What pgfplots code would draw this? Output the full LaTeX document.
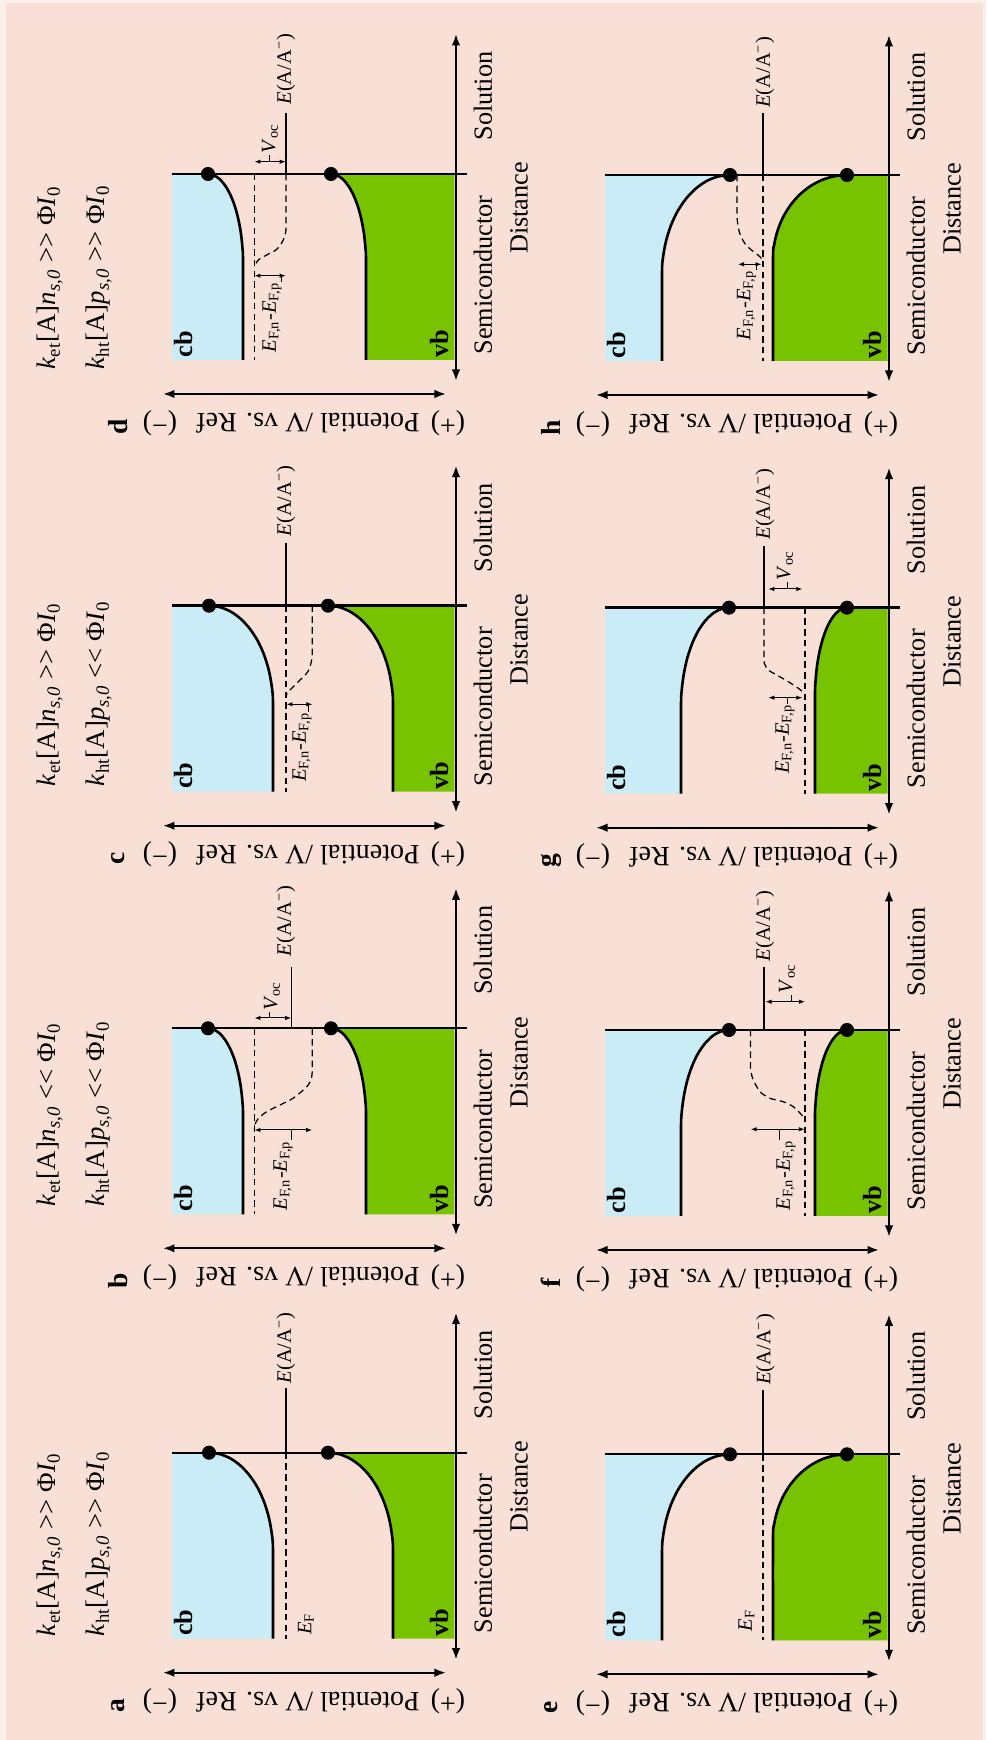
\documentclass[border=0pt]{standalone}
\usepackage{fontspec}
\setmainfont{Liberation Serif}
\usepackage{pgfplots}
\pgfplotsset{compat=1.18}
\usetikzlibrary{arrows.meta}

\definecolor{bgpeach}{RGB}{249,224,214}
\definecolor{bgedge}{RGB}{252,238,233}
\definecolor{cbblue}{RGB}{201,236,246}
\definecolor{vbgreen}{RGB}{120,195,0}

\newcommand{\fs}[1]{\fontsize{#1}{#1}\selectfont}
\newcommand{\gtgt}{>\kern0pt>}
\newcommand{\ltlt}{<\kern0pt<}
\newcommand{\kel}[1]{\textit{k}\textsubscript{et}[A]\textit{n}\textsubscript{\textit{s},\textit{0}} #1 Φ\textit{I}\textsubscript{0}}
\newcommand{\khl}[1]{\textit{k}\textsubscript{ht}[A]\textit{p}\textsubscript{\textit{s},\textit{0}} #1 Φ\textit{I}\textsubscript{0}}
\newcommand{\EAA}{\textit{E}(A/A\textsuperscript{−})}
\newcommand{\EFnp}{\textit{E}\textsubscript{F,n}-\textit{E}\textsubscript{F,p}}
\newcommand{\Voc}{\textit{V}\textsubscript{oc}}

\tikzset{
  vtext/.style={rotate=90, inner sep=0pt},
  lab/.style={font=\fs{10.5}},
  potl/.style={rotate=180, inner sep=0pt, font=\fs{11.2}},
  small/.style={font=\fs{8.2}},
  klab/.style={rotate=90, inner sep=0pt, anchor=west, font=\fs{10.7}},
  letter/.style={rotate=90, inner sep=0pt, font=\fs{11}\bfseries},
  bandlab/.style={rotate=90, inner sep=0pt, font=\fs{10.5}\bfseries},
}

\pgfplotsset{
  panel/.style={hide axis, clip=false, x=0.4pt, y=0.4pt,
    xmin=-440, xmax=80, ymin=-260, ymax=150, anchor=south west},
  cbfill/.style={fill=cbblue, draw=none},
  vbfill/.style={fill=vbgreen, draw=none},
  band/.style={black, line width=1.05pt, smooth},
  level/.style={black, line width=0.5pt, dash pattern=on 2.6pt off 1.7pt},
  redox/.style={black, line width=0.5pt},
  surf/.style={black, line width=0.95pt},
  bigarrow/.style={black, line width=0.8pt,
    arrows={Latex[length=4.6pt,width=3.4pt]-Latex[length=4.6pt,width=3.4pt]}},
  smallarrow/.style={black, line width=0.4pt,
    arrows={Latex[length=2.4pt,width=1.8pt]-Latex[length=2.4pt,width=1.8pt]}},
  leader/.style={black, line width=0.4pt},
  dots/.style={only marks, mark=*, mark size=2.6pt, black, mark options={fill=black}},
}

% surface line, the two axes and the fixed labels of one panel
\newcommand{\panelframe}[1]{%
  \addplot[surf] coordinates {(-284,0) (11,0)};
  \addplot[bigarrow] coordinates {(0,-207) (0,140)};
  \addplot[bigarrow] coordinates {(-293,-220) (-10,-220)};
  \node[vtext, lab] at (axis cs:27,-101) {Semiconductor};
  \node[vtext, lab] at (axis cs:27,78) {Solution};
  \node[vtext, lab] at (axis cs:63,-34) {Distance};
  \node[potl] at (axis cs:-8,-249) {(+)};
  \node[potl] at (axis cs:-148,-249) {Potential /V vs. Ref};
  \node[potl] at (axis cs:-296,-249) {(−)};
  \node[letter] at (axis cs:-338,-253) {#1};
  \node[bandlab] at (axis cs:-272,-170) {cb};
  \node[bandlab] at (axis cs:-16.5,-170) {vb};
}

\begin{document}
\begin{tikzpicture}
\fill[bgedge] (0,0) rectangle (394.4pt,696pt);
\fill[bgpeach] (2.4pt,0) rectangle (393.2pt,694.8pt);

%% ---------------- panel a ----------------
\begin{axis}[panel, at={(6.4pt,10.92pt)}]
\addplot[cbfill] coordinates {(-284,0) (-247,0) (-235.9,-1.5) (-225.1,-6) (-215,-13.4) (-205.9,-23.4) (-198,-35.7) (-191.6,-50) (-186.9,-65.8) (-184,-82.6) (-183,-100) (-183,-186) (-284,-186)};
\addplot[vbfill] coordinates {(-128,0) (-116.7,-1.5) (-105.8,-6) (-95.5,-13.4) (-86.2,-23.4) (-78.2,-35.7) (-71.7,-50) (-66.9,-65.8) (-64,-82.6) (-63,-100) (-63,-186) (-1.5,-186) (-1.5,0)};
\addplot[band] coordinates {(-247,0) (-235.9,-1.5) (-225.1,-6) (-215,-13.4) (-205.9,-23.4) (-198,-35.7) (-191.6,-50) (-186.9,-65.8) (-184,-82.6) (-183,-100) (-183,-186)};
\addplot[band] coordinates {(-128,0) (-116.7,-1.5) (-105.8,-6) (-95.5,-13.4) (-86.2,-23.4) (-78.2,-35.7) (-71.7,-50) (-66.9,-65.8) (-64,-82.6) (-63,-100) (-63,-186)};
\addplot[level] coordinates {(-170,0) (-170,-186)};
\addplot[redox] coordinates {(-170,0) (-170,65)};
\panelframe{a}
\addplot[dots] coordinates {(-247,0) (-128,0)};
\node[vtext, small, anchor=west] at (axis cs:-170,69) {\EAA};
\node[vtext, small] at (axis cs:-150,-171) {\textit{E}\textsubscript{F}};
\node[klab] at (axis cs:-406,-184) {\kel{\gtgt}};
\node[klab] at (axis cs:-357,-184) {\khl{\gtgt}};
\end{axis}

%% ---------------- panel b ----------------
\begin{axis}[panel, at={(6.4pt,180.68pt)}]
\addplot[cbfill] coordinates {(-284,0) (-248,0) (-241.9,-1.4) (-236,-5.4) (-230.5,-12.1) (-225.5,-21.1) (-221.2,-32.1) (-217.7,-45) (-215.1,-59.2) (-213.5,-74.4) (-213,-90) (-213,-186) (-284,-186)};
\addplot[vbfill] coordinates {(-125,0) (-118.9,-1.4) (-113,-5.4) (-107.5,-12.1) (-102.5,-21.1) (-98.2,-32.1) (-94.7,-45) (-92.1,-59.2) (-90.5,-74.4) (-90,-90) (-90,-186) (-1.5,-186) (-1.5,0)};
\addplot[band] coordinates {(-248,0) (-241.9,-1.4) (-236,-5.4) (-230.5,-12.1) (-225.5,-21.1) (-221.2,-32.1) (-217.7,-45) (-215.1,-59.2) (-213.5,-74.4) (-213,-90) (-213,-186)};
\addplot[band] coordinates {(-125,0) (-118.9,-1.4) (-113,-5.4) (-107.5,-12.1) (-102.5,-21.1) (-98.2,-32.1) (-94.7,-45) (-92.1,-59.2) (-90.5,-74.4) (-90,-90) (-90,-186)};
\addplot[level] coordinates {(-201.7,0) (-201.7,-186)};
\addplot[level, smooth] coordinates {(-143.7,0) (-143.7,-38) (-144.5,-50) (-148,-57) (-153,-62) (-163,-70) (-176,-76.7) (-189.3,-83.4) (-197.5,-90) (-201,-96) (-201.7,-101)};
\addplot[redox] coordinates {(-164.3,0) (-164.3,61.6)};
\panelframe{b}
\addplot[dots] coordinates {(-248,0) (-125,0)};
\addplot[smallarrow] coordinates {(-201.5,10.3) (-164.8,10.3)};
\addplot[leader] coordinates {(-186,10.3) (-186,16)};
\node[vtext, small, anchor=west] at (axis cs:-184,17) {\Voc};
\addplot[smallarrow] coordinates {(-201.5,-101.7) (-143.9,-101.7)};
\addplot[leader] coordinates {(-164.3,-101.7) (-164.3,-112)};
\node[vtext, small, anchor=east] at (axis cs:-173,-112) {\EFnp};
\node[vtext, small, anchor=west] at (axis cs:-170,71.6) {\EAA};
\node[klab] at (axis cs:-406,-178.4) {\kel{\ltlt}};
\node[klab] at (axis cs:-357,-178.4) {\khl{\ltlt}};
\end{axis}

%% ---------------- panel c ----------------
\begin{axis}[panel, at={(6.4pt,349.72pt)}]
\addplot[cbfill] coordinates {(-284,0) (-247,0) (-235.9,-1.5) (-225.1,-6) (-215,-13.4) (-205.9,-23.4) (-198,-35.7) (-191.6,-50) (-186.9,-65.8) (-184,-82.6) (-183,-100) (-183,-186) (-284,-186)};
\addplot[vbfill] coordinates {(-128,0) (-116.7,-1.5) (-105.8,-6) (-95.5,-13.4) (-86.2,-23.4) (-78.2,-35.7) (-71.7,-50) (-66.9,-65.8) (-64,-82.6) (-63,-100) (-63,-186) (-1.5,-186) (-1.5,0)};
\addplot[band] coordinates {(-247,0) (-235.9,-1.5) (-225.1,-6) (-215,-13.4) (-205.9,-23.4) (-198,-35.7) (-191.6,-50) (-186.9,-65.8) (-184,-82.6) (-183,-100) (-183,-186)};
\addplot[band] coordinates {(-128,0) (-116.7,-1.5) (-105.8,-6) (-95.5,-13.4) (-86.2,-23.4) (-78.2,-35.7) (-71.7,-50) (-66.9,-65.8) (-64,-82.6) (-63,-100) (-63,-186)};
\addplot[level] coordinates {(-170,0) (-170,-186)};
\addplot[level, smooth] coordinates {(-143.7,0) (-143.7,-45) (-144.5,-55) (-147,-64) (-151,-69.5) (-157.7,-76) (-164.3,-82.6) (-168.7,-87.6) (-170,-91)};
\addplot[redox] coordinates {(-170,0) (-170,62.4)};
\panelframe{c}
\addplot[dots] coordinates {(-247,0) (-128,0)};
\addplot[smallarrow] coordinates {(-169.5,-98.6) (-143.5,-98.6)};
\addplot[leader] coordinates {(-147,-98.6) (-147,-106)};
\node[vtext, small, anchor=east] at (axis cs:-154,-106) {\EFnp};
\node[vtext, small, anchor=west] at (axis cs:-170,69) {\EAA};
\node[klab] at (axis cs:-406,-181) {\kel{\gtgt}};
\node[klab] at (axis cs:-357,-181) {\khl{\ltlt}};
\end{axis}

%% ---------------- panel d ----------------
\begin{axis}[panel, at={(6.4pt,522.4pt)}]
\addplot[cbfill] coordinates {(-284,0) (-248,0) (-241.9,-1.4) (-236,-5.4) (-230.5,-12.1) (-225.5,-21.1) (-221.2,-32.1) (-217.7,-45) (-215.1,-59.2) (-213.5,-74.4) (-213,-90) (-213,-186) (-284,-186)};
\addplot[vbfill] coordinates {(-125,0) (-118.9,-1.4) (-113,-5.4) (-107.5,-12.1) (-102.5,-21.1) (-98.2,-32.1) (-94.7,-45) (-92.1,-59.2) (-90.5,-74.4) (-90,-90) (-90,-186) (-1.5,-186) (-1.5,0)};
\addplot[band] coordinates {(-248,0) (-241.9,-1.4) (-236,-5.4) (-230.5,-12.1) (-225.5,-21.1) (-221.2,-32.1) (-217.7,-45) (-215.1,-59.2) (-213.5,-74.4) (-213,-90) (-213,-186)};
\addplot[band] coordinates {(-125,0) (-118.9,-1.4) (-113,-5.4) (-107.5,-12.1) (-102.5,-21.1) (-98.2,-32.1) (-94.7,-45) (-92.1,-59.2) (-90.5,-74.4) (-90,-90) (-90,-186)};
\addplot[level] coordinates {(-201.7,0) (-201.7,-186)};
\addplot[level, smooth] coordinates {(-170,0) (-170,-52) (-170.8,-60) (-172.7,-66) (-176,-71.5) (-180,-76) (-189.3,-81) (-197.7,-86) (-201.7,-93)};
\addplot[redox] coordinates {(-170,0) (-170,60.7)};
\panelframe{d}
\addplot[dots] coordinates {(-248,0) (-125,0)};
\addplot[smallarrow] coordinates {(-201.5,12.3) (-170.3,12.3)};
\addplot[leader] coordinates {(-186,12.3) (-186,19)};
\node[vtext, small, anchor=west] at (axis cs:-186,20) {\Voc};
\addplot[smallarrow] coordinates {(-201.5,-101.7) (-170.3,-101.7)};
\addplot[leader] coordinates {(-174,-101.7) (-174,-108)};
\node[vtext, small, anchor=east] at (axis cs:-184,-108) {\EFnp};
\node[vtext, small, anchor=west] at (axis cs:-170,69) {\EAA};
\node[klab] at (axis cs:-406,-196) {\kel{\gtgt}};
\node[klab] at (axis cs:-357,-196) {\khl{\gtgt}};
\end{axis}

%% ---------------- panel e ----------------
\begin{axis}[panel, at={(179.6pt,10.28pt)}]
\addplot[cbfill] coordinates {(-284,0) (-159,0) (-170.8,-1.5) (-182.3,-6) (-193,-13.4) (-202.7,-23.4) (-211.1,-35.7) (-217.9,-50) (-222.9,-65.8) (-226,-82.6) (-227,-100) (-227,-186) (-284,-186)};
\addplot[vbfill] coordinates {(-42,0) (-54.8,-1.3) (-67.3,-5.1) (-79,-11.4) (-89.6,-19.9) (-98.7,-30.4) (-106.1,-42.5) (-111.5,-55.9) (-114.9,-70.2) (-116,-85) (-116,-186) (-1.5,-186) (-1.5,0)};
\addplot[band] coordinates {(-159,0) (-170.8,-1.5) (-182.3,-6) (-193,-13.4) (-202.7,-23.4) (-211.1,-35.7) (-217.9,-50) (-222.9,-65.8) (-226,-82.6) (-227,-100) (-227,-186)};
\addplot[band] coordinates {(-42,0) (-54.8,-1.3) (-67.3,-5.1) (-79,-11.4) (-89.6,-19.9) (-98.7,-30.4) (-106.1,-42.5) (-111.5,-55.9) (-114.9,-70.2) (-116,-85) (-116,-186)};
\addplot[level] coordinates {(-126,0) (-126,-186)};
\addplot[redox] coordinates {(-126,0) (-126,64.3)};
\panelframe{e}
\addplot[dots] coordinates {(-159,0) (-42,0)};
\node[vtext, small, anchor=west] at (axis cs:-123.5,69) {\EAA};
\node[vtext, small] at (axis cs:-142.6,-166) {\textit{E}\textsubscript{F}};
\end{axis}

%% ---------------- panel f ----------------
\begin{axis}[panel, at={(179.6pt,180pt)}]
\addplot[cbfill] coordinates {(-284,0) (-160,0) (-168.3,-1.5) (-176.4,-6) (-184,-13.4) (-190.9,-23.4) (-196.8,-35.7) (-201.6,-50) (-205.1,-65.8) (-207.3,-82.6) (-208,-100) (-208,-186) (-284,-186)};
\addplot[vbfill] coordinates {(-42,0) (-47.6,-1.4) (-52.9,-5.4) (-58,-12.1) (-62.6,-21.1) (-66.5,-32.1) (-69.7,-45) (-72.1,-59.2) (-73.5,-74.4) (-74,-90) (-74,-186) (-1.5,-186) (-1.5,0)};
\addplot[band] coordinates {(-160,0) (-168.3,-1.5) (-176.4,-6) (-184,-13.4) (-190.9,-23.4) (-196.8,-35.7) (-201.6,-50) (-205.1,-65.8) (-207.3,-82.6) (-208,-100) (-208,-186)};
\addplot[band] coordinates {(-42,0) (-47.6,-1.4) (-52.9,-5.4) (-58,-12.1) (-62.6,-21.1) (-66.5,-32.1) (-69.7,-45) (-72.1,-59.2) (-73.5,-74.4) (-74,-90) (-74,-186)};
\addplot[level] coordinates {(-84,0) (-84,-186)};
\addplot[level, smooth] coordinates {(-138.5,0) (-138.5,-36) (-137.5,-44) (-135.7,-50) (-129,-61.7) (-119,-68.3) (-105.7,-71.7) (-95.7,-76.7) (-87.3,-85) (-84,-90)};
\addplot[redox] coordinates {(-125,0) (-125,63.3)};
\panelframe{f}
\addplot[dots] coordinates {(-160,0) (-42,0)};
\addplot[smallarrow] coordinates {(-123.5,28.3) (-84,28.3)};
\addplot[leader] coordinates {(-98,28.3) (-98,35)};
\node[vtext, small, anchor=west] at (axis cs:-102,36) {\Voc};
\addplot[smallarrow] coordinates {(-138.3,-99.3) (-84.2,-99.3)};
\addplot[leader] coordinates {(-109.7,-99.3) (-109.7,-110)};
\node[vtext, small, anchor=east] at (axis cs:-103,-110) {\EFnp};
\node[vtext, small, anchor=west] at (axis cs:-124,68.3) {\EAA};
\end{axis}

%% ---------------- panel g ----------------
\begin{axis}[panel, at={(179.6pt,348.92pt)}]
\addplot[cbfill] coordinates {(-284,0) (-160,0) (-168.3,-1.5) (-176.4,-6) (-184,-13.4) (-190.9,-23.4) (-196.8,-35.7) (-201.6,-50) (-205.1,-65.8) (-207.3,-82.6) (-208,-100) (-208,-186) (-284,-186)};
\addplot[vbfill] coordinates {(-42,0) (-47.6,-1.4) (-52.9,-5.4) (-58,-12.1) (-62.6,-21.1) (-66.5,-32.1) (-69.7,-45) (-72.1,-59.2) (-73.5,-74.4) (-74,-90) (-74,-186) (-1.5,-186) (-1.5,0)};
\addplot[band] coordinates {(-160,0) (-168.3,-1.5) (-176.4,-6) (-184,-13.4) (-190.9,-23.4) (-196.8,-35.7) (-201.6,-50) (-205.1,-65.8) (-207.3,-82.6) (-208,-100) (-208,-186)};
\addplot[band] coordinates {(-42,0) (-47.6,-1.4) (-52.9,-5.4) (-58,-12.1) (-62.6,-21.1) (-66.5,-32.1) (-69.7,-45) (-72.1,-59.2) (-73.5,-74.4) (-74,-90) (-74,-186)};
\addplot[level] coordinates {(-84,0) (-84,-186)};
\addplot[level, smooth] coordinates {(-125,0) (-125,-50) (-124,-57) (-120.7,-62.3) (-112.3,-67.3) (-100.7,-74) (-90.7,-80.6) (-84,-86)};
\addplot[redox] coordinates {(-125,0) (-125,61.7)};
\panelframe{g}
\addplot[dots] coordinates {(-160,0) (-42,0)};
\addplot[smallarrow] coordinates {(-120.7,18.7) (-86.7,18.7)};
\addplot[leader] coordinates {(-102,18.7) (-102,26)};
\node[vtext, small, anchor=west] at (axis cs:-104,27) {\Voc};
\addplot[smallarrow] coordinates {(-120.7,-90) (-86.7,-90)};
\addplot[leader] coordinates {(-102,-90) (-102,-96)};
\node[vtext, small, anchor=east] at (axis cs:-104,-96) {\EFnp};
\node[vtext, small, anchor=west] at (axis cs:-124,67.7) {\EAA};
\end{axis}

%% ---------------- panel h ----------------
\begin{axis}[panel, at={(179.6pt,522pt)}]
\addplot[cbfill] coordinates {(-284,0) (-159,0) (-170.8,-1.5) (-182.3,-6) (-193,-13.4) (-202.7,-23.4) (-211.1,-35.7) (-217.9,-50) (-222.9,-65.8) (-226,-82.6) (-227,-100) (-227,-186) (-284,-186)};
\addplot[vbfill] coordinates {(-42,0) (-54.8,-1.3) (-67.3,-5.1) (-79,-11.4) (-89.6,-19.9) (-98.7,-30.4) (-106.1,-42.5) (-111.5,-55.9) (-114.9,-70.2) (-116,-85) (-116,-186) (-1.5,-186) (-1.5,0)};
\addplot[band] coordinates {(-159,0) (-170.8,-1.5) (-182.3,-6) (-193,-13.4) (-202.7,-23.4) (-211.1,-35.7) (-217.9,-50) (-222.9,-65.8) (-226,-82.6) (-227,-100) (-227,-186)};
\addplot[band] coordinates {(-42,0) (-54.8,-1.3) (-67.3,-5.1) (-79,-11.4) (-89.6,-19.9) (-98.7,-30.4) (-106.1,-42.5) (-111.5,-55.9) (-114.9,-70.2) (-116,-85) (-116,-186)};
\addplot[level] coordinates {(-126,0) (-126,-186)};
\addplot[level, smooth] coordinates {(-152,0) (-152,-40) (-151,-50) (-149.3,-58.3) (-144.3,-68.3) (-137.7,-75) (-131,-80) (-127.7,-83.3) (-126,-86)};
\addplot[redox] coordinates {(-126,0) (-126,61.7)};
\panelframe{h}
\addplot[dots] coordinates {(-159,0) (-42,0)};
\addplot[smallarrow] coordinates {(-151,-89.3) (-127.5,-89.3)};
\addplot[leader] coordinates {(-133,-89.3) (-133,-95)};
\node[vtext, small, anchor=east] at (axis cs:-142.6,-95) {\EFnp};
\node[vtext, small, anchor=west] at (axis cs:-124,66.7) {\EAA};
\end{axis}
\end{tikzpicture}
\end{document}
